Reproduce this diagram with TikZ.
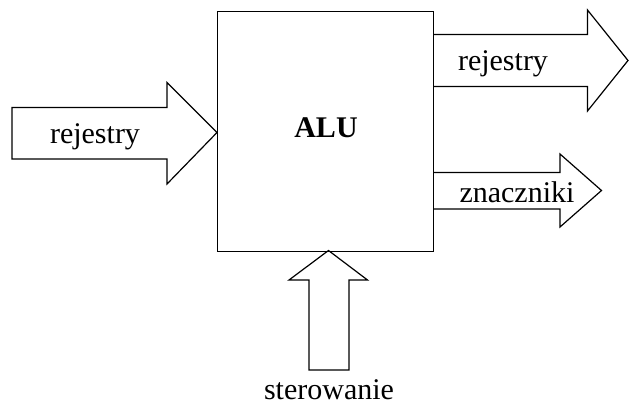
\documentclass[tikz,border=0pt]{standalone}
\usepackage{fontspec}
\setmainfont{Liberation Serif}
\begin{document}
\begin{tikzpicture}[x=1pt,y=-1pt,
  outl/.style={draw=black,line width=1.2pt,line join=miter,fill=white},
  lbl/.style={font=\fontsize{30}{32}\selectfont,inner sep=0pt}]
\useasboundingbox (0,0) rectangle (629,407);
% left input arrow
\draw[outl] (12,107.5) -- (167,107.5) -- (167,82.5) -- (217,132.5) -- (167,184) -- (167,159) -- (12,159) -- cycle;
% top-right output arrow
\draw[outl] (433,34.5) -- (587.5,34.5) -- (587.5,10) -- (628,60.5) -- (587.5,111) -- (587.5,86.5) -- (433,86.5);
% flags arrow
\draw[outl] (433,172.5) -- (560,172.5) -- (560,154) -- (601.5,190.5) -- (560,227) -- (560,209) -- (433,209);
% bottom control arrow
\draw[outl] (328.5,250.5) -- (367.5,280) -- (349,280) -- (349,370) -- (309,370) -- (309,280) -- (289,280) -- cycle;
% ALU box (drawn on top, transparent)
\node[draw=black,line width=1.2pt,minimum width=216pt,minimum height=240pt,anchor=north west,inner sep=0pt] (alu) at (217,10.5) {};
\node[lbl,font=\fontsize{30}{32}\selectfont\bfseries] (alutxt) at (326,128) {ALU};
\node[lbl] (rin) at (95,137) {rejestry};
\node[lbl] (rout) at (503,64) {rejestry};
\node[lbl] (flags) at (517,192) {znaczniki};
\node[lbl] (ctrl) at (329,390) {sterowanie};
\end{tikzpicture}
\end{document}
